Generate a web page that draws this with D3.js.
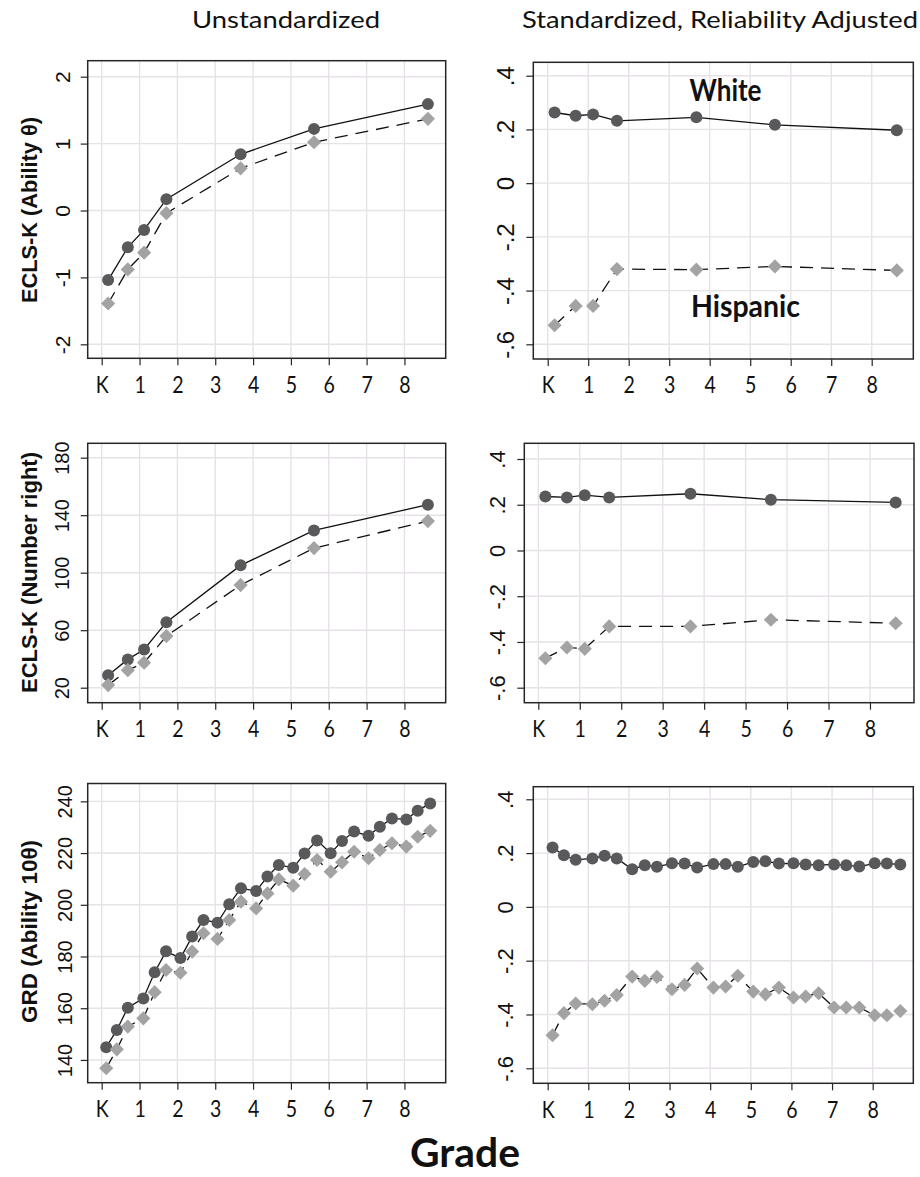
<!DOCTYPE html>
<html>
<head>
<meta charset="utf-8">
<script src="https://cdn.jsdelivr.net/npm/d3@7"></script>
<style>
  html, body { margin: 0; padding: 0; background: #ffffff; }
  svg { display: block; }
</style>
</head>
<body>
<script>
// ---- Grade axis ----
const gradeTicks = [0, 1, 2, 3, 4, 5, 6, 7, 8];
const gradeLabels = ["K", "1", "2", "3", "4", "5", "6", "7", "8"];

// ECLS-K assessment waves (grade at time of testing)
const eclsGrades = [0.17, 0.69, 1.12, 1.71, 3.67, 5.61, 8.62];

// ECLS-K ability theta
const thetaWhite = [-1.04, -0.55, -0.29, 0.17, 0.84, 1.22, 1.59];
const thetaHispanic = [-1.39, -0.88, -0.63, -0.04, 0.63, 1.02, 1.37];
const thetaStdWhite = [0.263, 0.251, 0.256, 0.232, 0.245, 0.217, 0.197];
const thetaStdHispanic = [-0.529, -0.457, -0.457, -0.320, -0.322, -0.310, -0.325];

// ECLS-K number right
const rightWhite = [28.6, 39.7, 46.6, 65.6, 105.1, 129.4, 147.3];
const rightHispanic = [21.8, 32.2, 37.4, 55.9, 91.4, 117.1, 135.9];
const rightStdWhite = [0.236, 0.232, 0.242, 0.232, 0.248, 0.222, 0.210];
const rightStdHispanic = [-0.471, -0.424, -0.430, -0.332, -0.332, -0.303, -0.318];

// GRD waves: fall, winter, spring of each grade
const grdGrades = [0.12, 0.40, 0.69, 1.10, 1.40, 1.70, 2.08, 2.39, 2.69,
                   3.06, 3.37, 3.68, 4.08, 4.38, 4.68, 5.06, 5.36, 5.69,
                   6.05, 6.35, 6.67, 7.05, 7.35, 7.67, 8.05, 8.35, 8.68];
const grdWhite = [144.9, 151.6, 160.2, 163.8, 173.9, 182.0, 179.4, 187.7, 194.1,
                  193.1, 200.2, 206.4, 205.3, 210.9, 215.4, 214.3, 219.8, 224.9,
                  219.9, 224.7, 228.3, 226.7, 230.2, 233.4, 233.0, 236.4, 239.2];
const grdHispanic = [136.8, 144.1, 152.9, 156.1, 166.2, 174.8, 173.7, 181.9, 189.0,
                     186.8, 194.1, 201.2, 198.6, 204.4, 209.8, 207.4, 211.9, 217.3,
                     212.8, 216.4, 220.5, 218.0, 221.2, 223.8, 222.5, 226.3, 228.6];
const grdStdWhite = [0.221, 0.192, 0.175, 0.180, 0.190, 0.180, 0.140, 0.155, 0.149,
                     0.162, 0.161, 0.146, 0.159, 0.159, 0.149, 0.167, 0.170, 0.161,
                     0.162, 0.158, 0.155, 0.158, 0.155, 0.150, 0.162, 0.161, 0.158];
const grdStdHispanic = [-0.477, -0.395, -0.359, -0.362, -0.349, -0.328, -0.259, -0.275, -0.260,
                        -0.306, -0.290, -0.229, -0.300, -0.296, -0.256, -0.315, -0.325, -0.300,
                        -0.337, -0.333, -0.321, -0.374, -0.374, -0.374, -0.403, -0.403, -0.387];

// ---- Y tick sets ----
const thetaTicks = [-2, -1, 0, 1, 2];
const rightTicks = [20, 60, 100, 140, 180];
const grdTicks = [140, 160, 180, 200, 220, 240];
const stdTicks = [-0.6, -0.4, -0.2, 0, 0.2, 0.4];

// plain hyphen for negatives, no leading zero on fractions
const intFormat = d => String(d);
const stdFormat = d => d === 0 ? "0" : (d < 0 ? "-" : "") + Math.abs(d).toFixed(1).replace(/^0/, "");

// ---- Text ----
const columnTitles = ["Unstandardized", "Standardized, Reliability Adjusted"];
const rowTitles = ["ECLS-K (Ability \u03B8)", "ECLS-K (Number right)", "GRD (Ability 10\u03B8)"];
const groupNames = ["White", "Hispanic"];
const xTitle = "Grade";

const COL = { grid: "#e6e2e7", frame: "#262626", line: "#111111", white: "#59595c", hisp: "#a3a3a3", text: "#111111" };
const SANS = "'Liberation Sans', Arial, sans-serif";
const TITLE = "Lato, 'Open Sans', sans-serif";

const svg = d3.select("body").append("svg")
  .attr("width", 920).attr("height", 1177)
  .style("background", "#ffffff");

const panels = [
  { rect: [87.7, 445.7, 60.7, 358.3], xd: [-0.37, 9.09], yd: [-2.209, 2.239], ticks: thetaTicks, fmt: intFormat,
    xs: eclsGrades, a: thetaWhite, b: thetaHispanic, labOff: -25, labSize: 21 },
  { rect: [533.3, 913.3, 62.3, 359.0], xd: [-0.356, 9.027], yd: [-0.6547, 0.4499], ticks: stdTicks, fmt: stdFormat,
    xs: eclsGrades, a: thetaStdWhite, b: thetaStdHispanic, labOff: -28, labSize: 24, names: true },
  { rect: [87.7, 445.7, 443.3, 702.7], xd: [-0.37, 9.09], yd: [9.57, 190.0], ticks: rightTicks, fmt: intFormat,
    xs: eclsGrades, a: rightWhite, b: rightHispanic, labOff: -26, labSize: 20 },
  { rect: [524.3, 914.0, 443.3, 702.7], xd: [-0.338, 9.062], yd: [-0.6656, 0.4687], ticks: stdTicks, fmt: stdFormat,
    xs: eclsGrades, a: rightStdWhite, b: rightStdHispanic, labOff: -27, labSize: 22 },
  { rect: [87.7, 445.7, 783.5, 1082.7], xd: [-0.37, 9.09], yd: [131.2, 246.9], ticks: grdTicks, fmt: intFormat,
    xs: grdGrades, a: grdWhite, b: grdHispanic, labOff: -23, labSize: 20 },
  { rect: [533.3, 913.3, 786.7, 1083.3], xd: [-0.354, 9.0], yd: [-0.6558, 0.4468], ticks: stdTicks, fmt: stdFormat,
    xs: grdGrades, a: grdStdWhite, b: grdStdHispanic, labOff: -28, labSize: 22 }
];

function drawPanel(p) {
  const [L, R, T, B] = p.rect;
  const x = d3.scaleLinear().domain(p.xd).range([L, R]);
  const y = d3.scaleLinear().domain(p.yd).range([B, T]);
  const g = svg.append("g");

  // grid
  g.append("g").selectAll("line").data(gradeTicks).join("line")
    .attr("x1", d => x(d)).attr("x2", d => x(d)).attr("y1", T).attr("y2", B)
    .attr("stroke", COL.grid).attr("stroke-width", 1.4);
  g.append("g").selectAll("line").data(p.ticks).join("line")
    .attr("x1", L).attr("x2", R).attr("y1", d => y(d)).attr("y2", d => y(d))
    .attr("stroke", COL.grid).attr("stroke-width", 1.4);

  // x axis
  g.append("g").attr("transform", `translate(0,${B})`)
    .call(d3.axisBottom(x).tickValues(gradeTicks).tickFormat((d, i) => gradeLabels[i]).tickSize(7))
    .call(a => a.select(".domain").remove())
    .call(a => a.selectAll("line").attr("stroke", COL.frame).attr("stroke-width", 1.2))
    .call(a => a.selectAll("text")
      .attr("y", 0).attr("dy", "0.36em")
      .attr("transform", "translate(0,26) scale(0.85,1)")
      .attr("font-family", TITLE).attr("font-size", 23).attr("fill", COL.text))
    .attr("font-family", null).attr("font-size", null);

  // y axis, labels read bottom-to-top
  g.append("g").attr("transform", `translate(${L},0)`)
    .call(d3.axisLeft(y).tickValues(p.ticks).tickFormat(p.fmt).tickSize(7))
    .call(a => a.select(".domain").remove())
    .call(a => a.selectAll("line").attr("stroke", COL.frame).attr("stroke-width", 1.2))
    .call(a => a.selectAll("text")
      .attr("x", 0).attr("dy", "0.36em").attr("text-anchor", "middle")
      .attr("transform", `translate(${p.labOff},0) rotate(-90)`)
      .attr("font-family", SANS).attr("font-size", p.labSize).attr("fill", COL.text))
    .attr("font-family", null).attr("font-size", null);

  // frame
  g.append("rect").attr("x", L).attr("y", T).attr("width", R - L).attr("height", B - T)
    .attr("fill", "none").attr("stroke", COL.frame).attr("stroke-width", 1.5);

  const line = d3.line().x(d => x(d[0])).y(d => y(d[1]));
  const ptsA = p.xs.map((v, i) => [v, p.a[i]]);
  const ptsB = p.xs.map((v, i) => [v, p.b[i]]);

  // White: solid line with dark circles
  g.append("path").datum(ptsA).attr("d", line)
    .attr("fill", "none").attr("stroke", COL.line).attr("stroke-width", 1.3);
  g.append("g").selectAll("circle").data(ptsA).join("circle")
    .attr("cx", d => x(d[0])).attr("cy", d => y(d[1])).attr("r", 6)
    .attr("fill", COL.white);

  // Hispanic: dashed line with light diamonds
  g.append("path").datum(ptsB).attr("d", line)
    .attr("fill", "none").attr("stroke", COL.line).attr("stroke-width", 1.3)
    .attr("stroke-dasharray", "13,8");
  const diamond = d3.symbol().type(d3.symbolSquare).size(100);
  g.append("g").selectAll("path").data(ptsB).join("path")
    .attr("d", diamond)
    .attr("transform", d => `translate(${x(d[0])},${y(d[1])}) rotate(45)`)
    .attr("fill", COL.hisp);

  if (p.names) {
    g.append("text").attr("x", 725.5).attr("y", 101)
      .attr("text-anchor", "middle").attr("font-family", TITLE).attr("font-weight", "bold")
      .attr("font-size", 30).attr("textLength", 72).attr("lengthAdjust", "spacingAndGlyphs")
      .attr("fill", COL.text).text(groupNames[0]);
    g.append("text").attr("x", 745.5).attr("y", 316.7)
      .attr("text-anchor", "middle").attr("font-family", TITLE).attr("font-weight", "bold")
      .attr("font-size", 30).attr("textLength", 109).attr("lengthAdjust", "spacingAndGlyphs")
      .attr("fill", COL.text).text(groupNames[1]);
  }
}

panels.forEach(drawPanel);

// column titles
const colTitleSpecs = [[286, 188], [720, 396]];
columnTitles.forEach((t, i) => {
  svg.append("text").attr("x", colTitleSpecs[i][0]).attr("y", 28)
    .attr("text-anchor", "middle").attr("font-family", TITLE).attr("font-size", 24)
    .attr("textLength", colTitleSpecs[i][1]).attr("lengthAdjust", "spacingAndGlyphs")
    .attr("fill", COL.text).text(t);
});

// row titles (rotated)
const rowTitleSpecs = [[210, 186], [572.5, 241], [931.5, 183]];
rowTitles.forEach((t, i) => {
  svg.append("text")
    .attr("transform", `translate(29,${rowTitleSpecs[i][0]}) rotate(-90)`)
    .attr("text-anchor", "middle").attr("dy", "0.35em")
    .attr("font-family", SANS).attr("font-weight", "bold").attr("font-size", 22)
    .attr("textLength", rowTitleSpecs[i][1]).attr("lengthAdjust", "spacingAndGlyphs")
    .attr("fill", COL.text).text(t);
});

// x title
svg.append("text").attr("x", 465).attr("y", 1167)
  .attr("text-anchor", "middle").attr("font-family", TITLE).attr("font-weight", "bold")
  .attr("font-size", 40).attr("textLength", 110).attr("lengthAdjust", "spacingAndGlyphs")
  .attr("fill", COL.text).text(xTitle);
</script>
</body>
</html>
